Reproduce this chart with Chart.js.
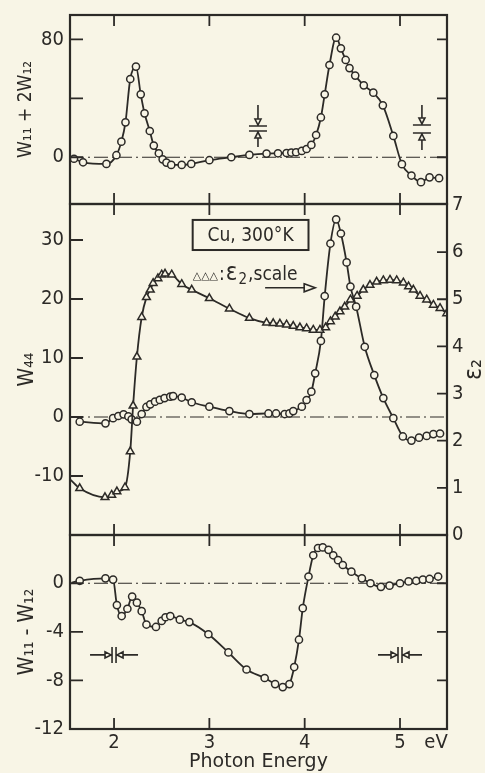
<!DOCTYPE html>
<html>
<head>
<meta charset="utf-8">
<script src="https://cdn.jsdelivr.net/npm/chart.js@4.4.1/dist/chart.umd.min.js"></script>
<style>
  html, body { margin: 0; padding: 0; background: #f8f5e6; }
  #wrap { position: relative; width: 485px; height: 773px; overflow: hidden; }
  .panel { position: absolute; left: 0; width: 485px; }
</style>
</head>
<body>
<div id="wrap">
  <div class="panel" style="top:0;height:215px"><canvas id="c1"></canvas></div>
  <div class="panel" style="top:194px;height:352px"><canvas id="c2"></canvas></div>
  <div class="panel" style="top:525px;height:248px"><canvas id="c3"></canvas></div>
</div>
<script>
// Photon energy axis (eV)
const xMin = 1.538, xMax = 5.493;
const xTicks = [2, 3, 4, 5];

// Upper panel: W11 + 2W12
const topE = [1.58, 1.675, 1.92, 2.025, 2.077, 2.12, 2.17, 2.23, 2.28, 2.32, 2.375, 2.417, 2.47, 2.51, 2.55, 2.60, 2.71, 2.81, 3.00, 3.23, 3.42, 3.60, 3.72, 3.81, 3.86, 3.91, 3.97, 4.02, 4.07, 4.12, 4.17, 4.21, 4.26, 4.33, 4.38, 4.43, 4.47, 4.53, 4.62, 4.72, 4.82, 4.93, 5.02, 5.12, 5.22, 5.31, 5.41];
const topW = [-1, -3.4, -4.5, 1.4, 10.6, 23.7, 53.1, 61.5, 42.7, 29.8, 17.8, 7.9, 2.7, -1.4, -3.6, -5.2, -5.2, -4.5, -2.0, 0, 1.6, 2.5, 2.7, 2.9, 3.2, 3.4, 4.3, 5.6, 8.4, 15.1, 27, 42.7, 62.6, 81.1, 73.9, 66, 60.5, 55.4, 48.8, 43.8, 35.2, 14.5, -4.7, -12.4, -16.9, -13.6, -14.2];
const topTicks = [0, 40, 80];
const topLabelled = [0, 80];

// Middle panel: W44 (circles) and eps2 (triangles, right scale)
const midE = [1.64, 1.91, 1.99, 2.045, 2.10, 2.15, 2.185, 2.24, 2.29, 2.34, 2.38, 2.43, 2.48, 2.53, 2.59, 2.62, 2.71, 2.815, 3.00, 3.21, 3.42, 3.62, 3.70, 3.79, 3.84, 3.88, 3.97, 4.02, 4.07, 4.11, 4.17, 4.21, 4.27, 4.33, 4.38, 4.44, 4.48, 4.54, 4.63, 4.73, 4.825, 4.93, 5.03, 5.12, 5.20, 5.28, 5.35, 5.42];
const midW = [-0.8, -1.07, -0.2, 0.17, 0.45, 0.1, -0.4, -0.8, 0.5, 1.7, 2.15, 2.6, 2.9, 3.2, 3.45, 3.55, 3.3, 2.5, 1.75, 1.0, 0.5, 0.6, 0.6, 0.5, 0.6, 1.0, 1.75, 2.88, 4.29, 7.4, 12.9, 20.5, 29.4, 33.5, 31.1, 26.2, 22.1, 18.7, 11.9, 7.1, 3.2, -0.2, -3.3, -4.0, -3.5, -3.2, -2.9, -2.8];
const epsE = [1.545, 1.64, 1.905, 1.975, 2.03, 2.115, 2.17, 2.20, 2.24, 2.29, 2.34, 2.38, 2.41, 2.46, 2.50, 2.535, 2.605, 2.71, 2.815, 3.00, 3.21, 3.42, 3.60, 3.67, 3.74, 3.81, 3.88, 3.95, 4.02, 4.09, 4.16, 4.22, 4.27, 4.32, 4.37, 4.42, 4.48, 4.55, 4.615, 4.685, 4.755, 4.825, 4.895, 4.965, 5.035, 5.09, 5.14, 5.21, 5.28, 5.35, 5.42, 5.49];
const epsV = [1.17, 0.99, 0.80, 0.85, 0.92, 1.01, 1.77, 2.74, 3.78, 4.62, 5.04, 5.20, 5.34, 5.44, 5.52, 5.54, 5.52, 5.32, 5.20, 5.02, 4.80, 4.60, 4.50, 4.49, 4.48, 4.46, 4.43, 4.40, 4.38, 4.35, 4.35, 4.40, 4.53, 4.63, 4.74, 4.84, 4.99, 5.07, 5.20, 5.30, 5.37, 5.40, 5.41, 5.40, 5.35, 5.27, 5.20, 5.07, 4.99, 4.88, 4.81, 4.70];
const midTicks = [-10, 0, 10, 20, 30];
const epsTicks = [0, 1, 2, 3, 4, 5, 6, 7];

// Lower panel: W11 - W12
const botE = [1.556, 1.64, 1.91, 1.99, 2.03, 2.08, 2.14, 2.19, 2.24, 2.29, 2.34, 2.44, 2.50, 2.54, 2.59, 2.69, 2.79, 2.99, 3.20, 3.39, 3.58, 3.69, 3.77, 3.84, 3.89, 3.94, 3.98, 4.04, 4.09, 4.14, 4.19, 4.25, 4.30, 4.35, 4.40, 4.49, 4.60, 4.69, 4.80, 4.89, 5.00, 5.09, 5.17, 5.24, 5.31, 5.40];
const botV = [0.05, 0.2, 0.4, 0.3, -1.8, -2.7, -2.1, -1.1, -1.6, -2.3, -3.4, -3.6, -3.1, -2.8, -2.7, -3.0, -3.2, -4.2, -5.7, -7.1, -7.8, -8.3, -8.55, -8.3, -6.9, -4.65, -2.05, 0.55, 2.3, 2.9, 2.95, 2.75, 2.3, 1.9, 1.5, 0.95, 0.4, 0, -0.3, -0.2, 0, 0.15, 0.2, 0.3, 0.35, 0.55];
const botTicks = [-12, -8, -4, 0];

const ink = '#2c2a27';
const paper = '#f8f5e6';
const cond = "'DejaVu Sans Condensed', 'DejaVu Sans', sans-serif";
const tickFont = { family: cond, size: 20 };

const pts = (xs, ys) => xs.map((x, i) => ({ x: x, y: ys[i] }));

// frame, inward ticks and the dash-dot zero line
const paperPlugin = {
  id: 'paper',
  beforeDatasetsDraw(chart) {
    const { ctx, chartArea: a, scales } = chart;
    const y0 = scales.y.getPixelForValue(0);
    ctx.save();
    ctx.strokeStyle = ink;
    ctx.lineWidth = 1.1;
    ctx.setLineDash([14, 4, 2, 4]);
    ctx.beginPath();
    ctx.moveTo(a.left, y0);
    ctx.lineTo(a.right, y0);
    ctx.stroke();
    ctx.restore();
  },
  afterDatasetsDraw(chart, args, opts) {
    const { ctx, chartArea: a, scales } = chart;
    const right = scales[opts.rightAxis] || scales.y;
    ctx.save();
    ctx.strokeStyle = ink;
    ctx.lineWidth = 2.2;
    ctx.strokeRect(a.left, a.top, a.right - a.left, a.bottom - a.top);
    ctx.lineWidth = 1.8;
    ctx.beginPath();
    xTicks.forEach(v => {
      const px = scales.x.getPixelForValue(v);
      ctx.moveTo(px, a.top); ctx.lineTo(px, a.top + 11);
      ctx.moveTo(px, a.bottom); ctx.lineTo(px, a.bottom - 11);
    });
    scales.y.ticks.forEach(t => {
      const py = scales.y.getPixelForValue(t.value);
      if (py < a.top + 2 || py > a.bottom - 2) return;
      ctx.moveTo(a.left, py); ctx.lineTo(a.left + 13, py);
    });
    right.ticks.forEach(t => {
      const py = right.getPixelForValue(t.value);
      if (py < a.top + 2 || py > a.bottom - 2) return;
      ctx.moveTo(a.right, py); ctx.lineTo(a.right - 10, py);
    });
    ctx.stroke();
    ctx.restore();
  }
};

function leftAxis(min, max, ticks, labelled, title, titleSize) {
  return {
    position: 'left', min: min, max: max,
    afterBuildTicks: s => { s.ticks = ticks.map(v => ({ value: v })); },
    afterFit: s => { s.width = 70; s.paddingTop = 0; s.paddingBottom = 0; },
    grid: { display: false, drawTicks: false },
    border: { display: false },
    ticks: { color: ink, font: tickFont, padding: 6, callback: v => labelled.includes(v) ? String(v) : '' },
    title: { display: true, text: title, color: ink, font: { family: cond, size: titleSize }, padding: { top: 15, bottom: 0 } }
  };
}

function xAxis(show) {
  return {
    type: 'linear', position: 'bottom', min: xMin, max: xMax, display: show,
    afterBuildTicks: s => { s.ticks = xTicks.map(v => ({ value: v })); },
    afterFit: s => { s.height = show ? 44 : 0; s.paddingLeft = 0; s.paddingRight = 0; },
    grid: { display: false, drawTicks: false },
    border: { display: false },
    ticks: { color: ink, font: tickFont, padding: 2, maxRotation: 0, autoSkip: false },
    title: { display: show, text: 'Photon Energy', color: ink, font: { family: "'DejaVu Sans', sans-serif", size: 19 }, padding: { top: 0, bottom: 0 } }
  };
}

function series(data, style, radius) {
  return {
    data: data,
    borderColor: ink,
    borderWidth: 1.8,
    pointStyle: style,
    pointRadius: radius,
    pointBorderWidth: 1.5,
    pointBackgroundColor: paper,
    pointBorderColor: ink,
    cubicInterpolationMode: 'monotone',
    fill: false
  };
}

function baseOptions(padding) {
  return {
    responsive: true,
    maintainAspectRatio: false,
    animation: false,
    events: [],
    layout: { padding: padding },
    plugins: { legend: { display: false }, tooltip: { enabled: false } }
  };
}

// resolution markers (positions in data units)
const topMarks = [
  { e: 3.51, hi: 21.2, lo: 17.8, from: 35.4, to: 7 },
  { e: 5.23, hi: 21.9, lo: 16.5, from: 35.4, to: 5 }
];
const botMarks = [
  { e: 2.0, v: -5.9, reach: 24 },
  { e: 5.0, v: -5.9, reach: 22 }
];

const topExtras = {
  id: 'topExtras',
  afterDatasetsDraw(chart) {
    const { ctx, scales: { x, y } } = chart;
    ctx.save();
    ctx.strokeStyle = ink;
    ctx.lineWidth = 1.6;
    topMarks.forEach(m => {
      const px = x.getPixelForValue(m.e);
      const yHi = y.getPixelForValue(m.hi), yLo = y.getPixelForValue(m.lo);
      const yF = y.getPixelForValue(m.from), yT = y.getPixelForValue(m.to);
      ctx.beginPath();
      ctx.moveTo(px - 9, yHi); ctx.lineTo(px + 9, yHi);
      ctx.moveTo(px - 9, yLo); ctx.lineTo(px + 9, yLo);
      ctx.moveTo(px, yF); ctx.lineTo(px, yHi - 7);
      ctx.moveTo(px, yT); ctx.lineTo(px, yLo + 7);
      ctx.moveTo(px - 3, yHi - 7); ctx.lineTo(px + 3, yHi - 7); ctx.lineTo(px, yHi - 1); ctx.closePath();
      ctx.moveTo(px - 3, yLo + 7); ctx.lineTo(px + 3, yLo + 7); ctx.lineTo(px, yLo + 1); ctx.closePath();
      ctx.stroke();
    });
    ctx.restore();
  }
};

const botExtras = {
  id: 'botExtras',
  afterDatasetsDraw(chart) {
    const { ctx, chartArea: a, scales: { x, y } } = chart;
    ctx.save();
    ctx.strokeStyle = ink;
    ctx.lineWidth = 1.6;
    botMarks.forEach(m => {
      const px = x.getPixelForValue(m.e), py = y.getPixelForValue(m.v);
      ctx.beginPath();
      ctx.moveTo(px - 2, py - 8); ctx.lineTo(px - 2, py + 8);
      ctx.moveTo(px + 2, py - 8); ctx.lineTo(px + 2, py + 8);
      ctx.moveTo(px - m.reach, py); ctx.lineTo(px - 9, py);
      ctx.moveTo(px + m.reach, py); ctx.lineTo(px + 9, py);
      ctx.moveTo(px - 9, py - 3); ctx.lineTo(px - 9, py + 3); ctx.lineTo(px - 3, py); ctx.closePath();
      ctx.moveTo(px + 9, py - 3); ctx.lineTo(px + 9, py + 3); ctx.lineTo(px + 3, py); ctx.closePath();
      ctx.stroke();
    });
    // unit label after the tick labels
    ctx.fillStyle = ink;
    ctx.font = `20px ${cond}`;
    ctx.textAlign = 'center';
    ctx.textBaseline = 'middle';
    ctx.fillText('eV', 436, a.bottom + 14);
    ctx.restore();
  }
};

const midExtras = {
  id: 'midExtras',
  afterDatasetsDraw(chart) {
    const { ctx, chartArea: a, scales: { x, y } } = chart;
    ctx.save();
    ctx.strokeStyle = ink;
    ctx.fillStyle = ink;
    // sample box
    const bx1 = x.getPixelForValue(2.825), bx2 = x.getPixelForValue(4.04);
    const by1 = y.getPixelForValue(33.4), by2 = y.getPixelForValue(28.3);
    ctx.lineWidth = 2;
    ctx.strokeRect(bx1, by1, bx2 - bx1, by2 - by1);
    ctx.font = `19px ${cond}`;
    ctx.textAlign = 'center';
    ctx.textBaseline = 'middle';
    ctx.fillText('Cu, 300°K', (bx1 + bx2) / 2, (by1 + by2) / 2 + 1);

    // eps2 scale note
    let tx = x.getPixelForValue(2.825);
    const base = y.getPixelForValue(23.2);
    ctx.textAlign = 'left';
    ctx.textBaseline = 'alphabetic';
    const parts = [
      ['△△△', `11px 'DejaVu Sans', sans-serif`, -1],
      [':', `19px ${cond}`, 0],
      ['ε', `24px ${cond}`, 0],
      ['2', `15px ${cond}`, 4],
      [',scale', `19px ${cond}`, 0]
    ];
    parts.forEach(([t, f, dy]) => {
      ctx.font = f;
      ctx.fillText(t, tx, base + dy);
      tx += ctx.measureText(t).width + 1;
    });
    const ay = y.getPixelForValue(21.9);
    const ax1 = x.getPixelForValue(3.585), ax2 = x.getPixelForValue(4.11);
    ctx.lineWidth = 1.6;
    ctx.beginPath();
    ctx.moveTo(ax1, ay); ctx.lineTo(ax2 - 11, ay);
    ctx.moveTo(ax2 - 11, ay - 4); ctx.lineTo(ax2, ay); ctx.lineTo(ax2 - 11, ay + 4); ctx.closePath();
    ctx.stroke();

    // right axis title
    ctx.translate(474, (a.top + a.bottom) / 2);
    ctx.rotate(-Math.PI / 2);
    ctx.textAlign = 'center';
    ctx.textBaseline = 'middle';
    ctx.font = `25px ${cond}`;
    ctx.fillText('ε₂', 0, 0);
    ctx.restore();
  }
};

new Chart(document.getElementById('c1'), {
  type: 'line',
  data: { datasets: [series(pts(topE, topW), 'circle', 3.6)] },
  options: Object.assign(baseOptions({ top: 15, bottom: 11, left: 0, right: 38 }), {
    scales: {
      x: xAxis(false),
      y: leftAxis(-31.7, 96.5, topTicks, topLabelled, 'W₁₁ + 2W₁₂', 19)
    }
  }),
  plugins: [paperPlugin, topExtras]
});

const c2opts = baseOptions({ top: 10, bottom: 11, left: 0, right: 0 });
c2opts.plugins.paper = { rightAxis: 'yr' };
c2opts.scales = {
  x: xAxis(false),
  y: leftAxis(-20, 36.1, midTicks, midTicks, 'W₄₄', 21),
  yr: {
    position: 'right', min: 0, max: 7.02,
    afterBuildTicks: s => { s.ticks = epsTicks.map(v => ({ value: v })); },
    afterFit: s => { s.width = 38; s.paddingTop = 0; s.paddingBottom = 0; },
    grid: { display: false, drawTicks: false },
    border: { display: false },
    ticks: { color: ink, font: tickFont, padding: 5 }
  }
};
new Chart(document.getElementById('c2'), {
  type: 'line',
  data: {
    datasets: [
      Object.assign(series(pts(epsE, epsV), 'triangle', c => c.dataIndex === 0 ? 0 : 4.5), { yAxisID: 'yr' }),
      Object.assign(series(pts(midE, midW), 'circle', 3.6), { yAxisID: 'y' })
    ]
  },
  options: c2opts,
  plugins: [paperPlugin, midExtras]
});

new Chart(document.getElementById('c3'), {
  type: 'line',
  data: { datasets: [series(pts(botE, botV), 'circle', c => c.dataIndex === 0 ? 0 : 3.6)] },
  options: Object.assign(baseOptions({ top: 10, bottom: 0, left: 0, right: 38 }), {
    scales: {
      x: xAxis(true),
      y: leftAxis(-12, 3.97, botTicks, botTicks, 'W₁₁ - W₁₂', 21)
    }
  }),
  plugins: [paperPlugin, botExtras]
});
</script>
</body>
</html>
